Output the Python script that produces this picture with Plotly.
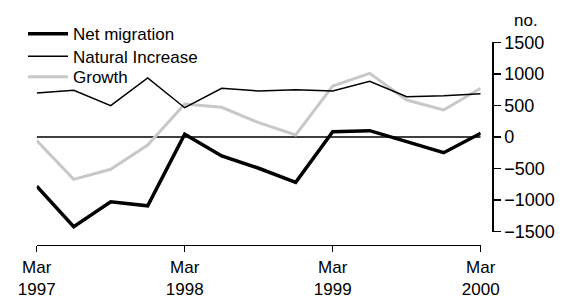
import plotly.graph_objects as go

quarters = list(range(13))
tick_pos = [0, 4, 8, 12]
tick_labels = ["Mar<br>1997", "Mar<br>1998", "Mar<br>1999", "Mar<br>2000"]

net_migration = [-780, -1420, -1025, -1090, 45, -300, -495, -718, 84, 100, -74, -249, 59]
natural_increase = [697, 740, 496, 935, 464, 772, 729, 750, 729, 883, 639, 655, 686]
growth = [-58, -671, -512, -127, 523, 470, 227, 32, 808, 1009, 586, 428, 772]

y_ticks = [-1500, -1000, -500, 0, 500, 1000, 1500]
y_tick_text = ["\u22121500", "\u22121000", "\u2212500", "0", "500", "1000", "1500"]

FONT = "Liberation Sans"
W, H = 576, 297

fig = go.Figure()
fig.add_trace(go.Scatter(x=quarters, y=growth, mode="lines", name="Growth",
                         line=dict(color="#c8c8c8", width=3), legend="legend3"))
fig.add_trace(go.Scatter(x=quarters, y=natural_increase, mode="lines", name="Natural Increase",
                         line=dict(color="black", width=1.5), legend="legend2"))
fig.add_trace(go.Scatter(x=quarters, y=net_migration, mode="lines", name="Net migration",
                         line=dict(color="black", width=3.5), legend="legend"))

fig.add_shape(type="line", xref="x", yref="y", x0=quarters[0], x1=quarters[-1], y0=0, y1=0,
              line=dict(color="black", width=1.3), layer="below")


def leg(ypix):
    return dict(x=23 / W, y=1 - ypix / H, xanchor="left", yanchor="middle",
                bgcolor="rgba(0,0,0,0)", font=dict(size=17), itemwidth=40)


fig.update_layout(
    width=W, height=H,
    margin=dict(l=0, r=0, t=0, b=0, autoexpand=False),
    paper_bgcolor="white", plot_bgcolor="rgba(0,0,0,0)",
    font=dict(family=FONT, size=18, color="black"),
    showlegend=True,
    legend=leg(34.3),
    legend2=leg(56.7),
    legend3=leg(77.3),
    xaxis=dict(domain=[36.7 / W, 480.7 / W], range=[0, 12], tickvals=tick_pos, ticktext=tick_labels,
               tickfont=dict(size=17),
               showgrid=False, zeroline=False, showline=True, linecolor="black", linewidth=1.3,
               ticks="outside", ticklen=6, tickcolor="black", tickwidth=1.3,
               anchor="free", position=1 - 245 / H, automargin=False),
    yaxis=dict(domain=[1 - 231.7 / H, 1 - 42.3 / H], range=[-1500, 1500],
               tickvals=y_ticks, ticktext=y_tick_text,
               side="right", anchor="free", position=492.3 / W, showgrid=False, zeroline=False,
               showline=True, linecolor="black", linewidth=1.3,
               ticks="outside", ticklen=7, tickcolor="black", tickwidth=1.3, automargin=False),
    annotations=[dict(text="no.", xref="paper", yref="paper", x=526 / W, y=1 - 20 / H,
                      xanchor="center", yanchor="middle", showarrow=False,
                      font=dict(size=17))],
)

fig.write_html("out.html", config={"displayModeBar": False, "staticPlot": True},
               post_script="document.body.style.margin='0px';document.body.style.overflow='hidden';")
